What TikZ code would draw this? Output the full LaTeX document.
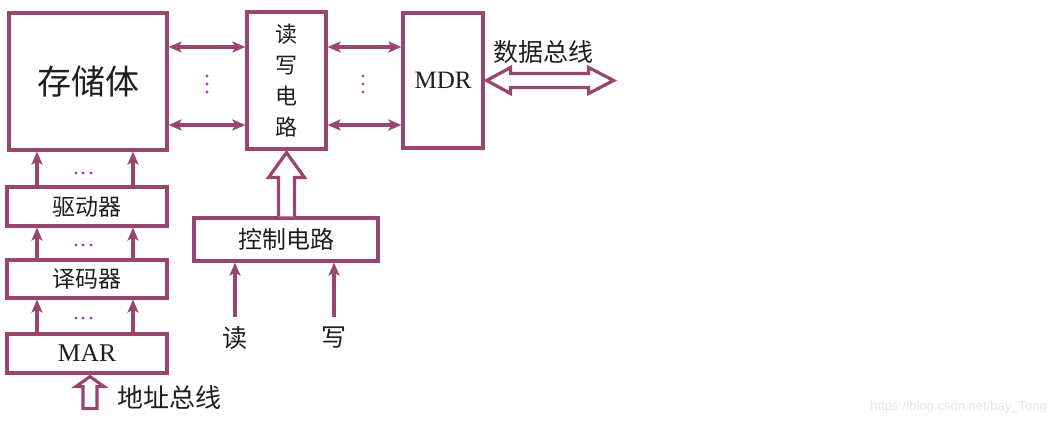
\documentclass[tikz,border=0pt]{standalone}
\usepackage{fontspec}
\setmainfont{Liberation Serif}
\newfontfamily\cjk{Noto Sans CJK SC}
\newfontfamily\wmfont{Liberation Sans}
\usetikzlibrary{arrows.meta}
\definecolor{lc}{HTML}{98466F}
\definecolor{dc}{HTML}{A03CB4}
\definecolor{tc}{HTML}{1E1E1E}
\tikzset{
  box/.style={draw=lc, line width=3.2pt, fill=white, inner sep=0pt, text=tc},
  arr/.style={draw=lc, line width=3.2pt, -{Stealth[length=13pt,width=11pt,inset=3pt]}},
  darr/.style={draw=lc, line width=3.2pt, {Stealth[length=13pt,width=11pt,inset=3pt]}-{Stealth[length=13pt,width=11pt,inset=3pt]}},
  hollow/.style={draw=lc, line width=3.2pt, line join=miter, fill=white},
  dotc/.style={fill=dc, draw=none},
  lab/.style={text=tc, inner sep=0pt}
}
\begin{document}
\begin{tikzpicture}[x=1pt,y=-1pt]
\useasboundingbox (0,0) rectangle (1055,425);
% boxes
\node[box, minimum width=158pt, minimum height=137pt, font=\cjk\fontsize{34}{36}\selectfont] (mem) at (88,81.5) {存储体};
\node[box, minimum width=79pt, minimum height=137pt, font=\cjk\fontsize{22}{31}\selectfont, align=center] (rw) at (286.5,80.5) {读\\写\\电\\路};
\node[box, minimum width=80pt, minimum height=135pt, font=\fontsize{25}{26}\selectfont] (mdr) at (443,80.5) {MDR};
\node[box, minimum width=160pt, minimum height=39pt, font=\cjk\fontsize{23}{26}\selectfont] (drv) at (87,206.5) {驱动器};
\node[box, minimum width=160pt, minimum height=38pt, font=\cjk\fontsize{23}{26}\selectfont] (dec) at (87,279) {译码器};
\node[box, minimum width=160pt, minimum height=39pt, font=\fontsize{25.5}{26}\selectfont] (mar) at (87,353.5) {MAR};
\node[box, minimum width=184pt, minimum height=43pt, font=\cjk\fontsize{24}{26}\selectfont] (ctl) at (286,239.5) {控制电路};
% labels
\node[lab, font=\cjk\fontsize{25}{26}\selectfont] (dbus) at (543,52) {数据总线};
\node[lab, font=\cjk\fontsize{26}{28}\selectfont, anchor=west] (abus) at (117,398) {地址总线};
\node[lab, font=\cjk\fontsize{25}{26}\selectfont] (rd) at (235,338) {读};
\node[lab, font=\cjk\fontsize{25}{26}\selectfont] (wr) at (334,338) {写};
\node[lab, font=\wmfont\fontsize{13}{14}\selectfont, text=black!10, anchor=east] (wm) at (1047,407) {https://blog.csdn.net/bay\_Tong};
% double arrows mem <-> rw <-> mdr
\foreach \yy in {47,125}{
  \draw[darr] (mem.east |- 0,\yy) -- (rw.west |- 0,\yy);
  \draw[darr] (rw.east |- 0,\yy) -- (mdr.west |- 0,\yy);
}
% vertical arrows in left column
\foreach \xx in {37,133}{
  \draw[arr] (mar.north -| \xx,0) -- (dec.south -| \xx,0);
  \draw[arr] (dec.north -| \xx,0) -- (drv.south -| \xx,0);
  \draw[arr] (drv.north -| \xx,0) -- (mem.south -| \xx,0);
}
% read/write inputs
\draw[arr] (rd.north |- 0,317) -- (ctl.south -| rd.north);
\draw[arr] (wr.north |- 0,317) -- (ctl.south -| wr.north);
% dots
\foreach \xx in {207,363}{
  \foreach \yy in {76,84,92}{ \fill[dotc] (\xx,\yy) circle (1.7pt); }
}
\foreach \yy in {173,245,318}{
  \foreach \xx in {76,83,91}{ \fill[dotc] (\xx,\yy) circle (1.7pt); }
}
% data bus hollow double arrow
\draw[hollow, shift={(mdr.east)}] (2,0) -- (26,-13) -- (26,-7) -- (104,-7) -- (104,-13) -- (129,0) -- (104,13) -- (104,7) -- (26,7) -- (26,13) -- cycle;
% control hollow arrow
\coordinate (cb) at (ctl.north -| rw.south);
\draw[hollow, shift={(rw.south)}] (-8,0 |- cb) -- (-8,27) -- (-18,27) -- (0,2) -- (18,27) -- (8,27) -- (8,0 |- cb);
% address bus hollow arrow
\draw[hollow, shift={(mar.south -| 90,0)}] (0,2) -- (14,12) -- (7,12) -- (7,34) -- (-7,34) -- (-7,12) -- (-14,12) -- cycle;
\end{tikzpicture}
\end{document}
